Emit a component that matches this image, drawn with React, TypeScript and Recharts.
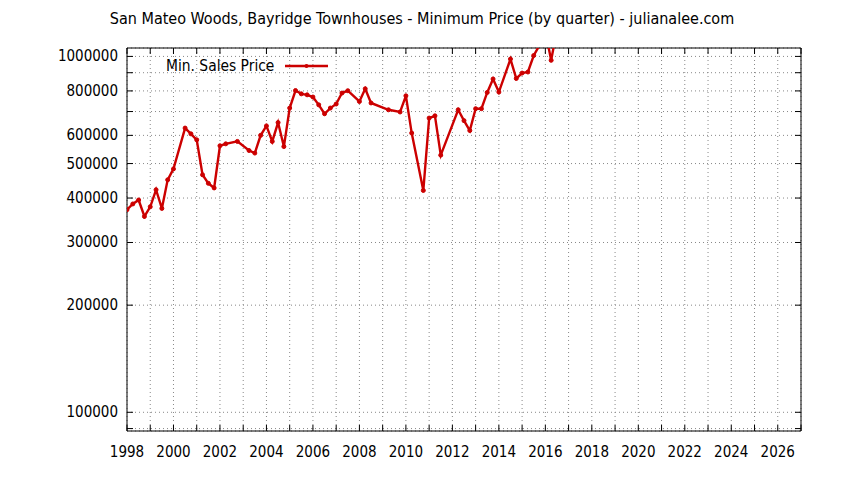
import React from 'react';
import { LineChart, Line, XAxis, YAxis, CartesianGrid, ReferenceArea, Legend } from 'recharts';

const chartTitle = 'San Mateo Woods, Bayridge Townhouses - Minimum Price (by quarter) - julianalee.com';
const seriesName = 'Min. Sales Price';

const quarters = [
  1998.0, 1998.25, 1998.5, 1998.75, 1999.0, 1999.25, 1999.5, 1999.75,
  2000.0, 2000.5, 2000.75, 2001.0, 2001.25, 2001.5, 2001.75,
  2002.0, 2002.25, 2002.75, 2003.25, 2003.5, 2003.75,
  2004.0, 2004.25, 2004.5, 2004.75, 2005.0, 2005.25, 2005.5, 2005.75,
  2006.0, 2006.25, 2006.5, 2006.75, 2007.0, 2007.25, 2007.5,
  2008.0, 2008.25, 2008.5, 2009.25, 2009.75,
  2010.0, 2010.25, 2010.75, 2011.0, 2011.25, 2011.5,
  2012.25, 2012.5, 2012.75, 2013.0, 2013.25, 2013.5, 2013.75,
  2014.0, 2014.5, 2014.75, 2015.0, 2015.25, 2015.5, 2015.75,
  2016.0, 2016.25, 2016.5,
];

const minPrices = [
  371000, 385000, 395000, 355000, 378000, 422000, 374000, 450000,
  483000, 629000, 606000, 583000, 465000, 440000, 427000,
  561000, 568000, 577000, 544000, 535000, 600000,
  638000, 577000, 652000, 558000, 716000, 802000, 785000, 780000,
  769000, 731000, 690000, 716000, 735000, 789000, 801000,
  747000, 811000, 740000, 708000, 698000,
  775000, 609000, 420000, 671000, 681000, 528000,
  708000, 660000, 619000, 713000, 713000, 792000, 864000,
  794000, 983000, 867000, 898000, 904000, 1006000, 1075000,
  1180000, 975000, 1190000,
];

const yearTicks = [
  1998, 1999, 2000, 2001, 2002, 2003, 2004, 2005, 2006, 2007, 2008, 2009, 2010,
  2011, 2012, 2013, 2014, 2015, 2016, 2017, 2018, 2019, 2020, 2021, 2022, 2023,
  2024, 2025, 2026, 2027,
];
const yearLabels = [
  1998, 2000, 2002, 2004, 2006, 2008, 2010, 2012, 2014, 2016, 2018, 2020, 2022, 2024, 2026,
];
const priceTicks = [
  90000, 100000, 200000, 300000, 400000, 500000, 600000, 700000, 800000, 900000, 1000000,
];
const priceLabels = [100000, 200000, 300000, 400000, 500000, 600000, 800000, 1000000];

const xDomain = [1998, 2027];
const yDomain = [88600, 1056000];

const data = quarters.map((q, i) => ({ quarter: q, price: minPrices[i] }));

const W = 844;
const H = 480;
const PL = 127;
const PR = 801;
const PT = 48;
const PB = 431;
const TICK = 6;
const FONT = "'DejaVu Sans Condensed', 'DejaVu Sans', sans-serif";
const RED = '#cc0000';

const XTick = (props: any) => {
  const { x, payload } = props;
  const v = payload.value;
  return (
    <g>
      <line x1={x} x2={x} y1={PB} y2={PB - TICK} stroke="#000" strokeWidth={1} />
      <line x1={x} x2={x} y1={PT} y2={PT + TICK} stroke="#000" strokeWidth={1} />
      {yearLabels.includes(v) ? (
        <text x={x} y={PB + 26} textAnchor="middle" fontFamily={FONT} fontSize={15} fill="#000">
          {v}
        </text>
      ) : null}
    </g>
  );
};

const YTick = (props: any) => {
  const { y, payload } = props;
  const v = payload.value;
  return (
    <g>
      <line x1={PL} x2={PL + TICK} y1={y} y2={y} stroke="#000" strokeWidth={1} />
      <line x1={PR - TICK} x2={PR} y1={y} y2={y} stroke="#000" strokeWidth={1} />
      {priceLabels.includes(v) ? (
        <text x={PL - 9} y={y + 5} textAnchor="end" fontFamily={FONT} fontSize={15} fill="#000">
          {v}
        </text>
      ) : null}
    </g>
  );
};

const LegendContent = () => (
  <div
    style={{
      display: 'flex',
      alignItems: 'center',
      fontFamily: FONT,
      fontSize: 15.4,
      lineHeight: '18px',
      color: '#000',
      whiteSpace: 'nowrap',
    }}
  >
    <span>{seriesName}</span>
    <svg width={44} height={10} style={{ marginLeft: 11 }}>
      <line x1={0} x2={43} y1={5} y2={5} stroke={RED} strokeWidth={2.4} />
      <circle cx={21.5} cy={5} r={2} fill={RED} />
    </svg>
  </div>
);

export default function App() {
  return (
    <div style={{ position: 'absolute', left: 0, top: 0, width: W, height: H, background: '#fff' }}>
      <div
        style={{
          position: 'absolute',
          left: 0,
          top: 10,
          width: W,
          textAlign: 'center',
          fontFamily: FONT,
          fontSize: 16,
          lineHeight: '18px',
          color: '#000',
          whiteSpace: 'nowrap',
        }}
      >
        {chartTitle}
      </div>
      <LineChart
        width={W}
        height={H}
        data={data}
        margin={{ top: PT, right: W - PR, bottom: H - PB - 30, left: PL - 80 }}
      >
        <CartesianGrid stroke="#888" strokeDasharray="1 3" strokeWidth={1} />
        <XAxis
          dataKey="quarter"
          type="number"
          domain={xDomain}
          ticks={yearTicks}
          interval={0}
          height={30}
          axisLine={false}
          tickLine={false}
          tick={<XTick />}
          allowDataOverflow
        />
        <YAxis
          dataKey="price"
          type="number"
          scale="log"
          domain={yDomain}
          ticks={priceTicks}
          interval={0}
          width={80}
          axisLine={false}
          tickLine={false}
          tick={<YTick />}
          allowDataOverflow
        />
        <Legend
          layout="horizontal"
          verticalAlign="middle"
          align="center"
          content={<LegendContent />}
          wrapperStyle={{ left: 166, top: 57, width: 'auto', height: 'auto' }}
        />
        <Line
          type="linear"
          dataKey="price"
          name={seriesName}
          stroke={RED}
          strokeWidth={2.4}
          dot={{ r: 2, fill: RED, stroke: RED, strokeWidth: 1 }}
          activeDot={false}
          isAnimationActive={false}
        />
        <ReferenceArea
          x1={xDomain[0]}
          x2={xDomain[1]}
          y1={yDomain[0]}
          y2={yDomain[1]}
          fill="none"
          fillOpacity={0}
          stroke="#000"
          strokeWidth={1}
          ifOverflow="visible"
        />
      </LineChart>
    </div>
  );
}
